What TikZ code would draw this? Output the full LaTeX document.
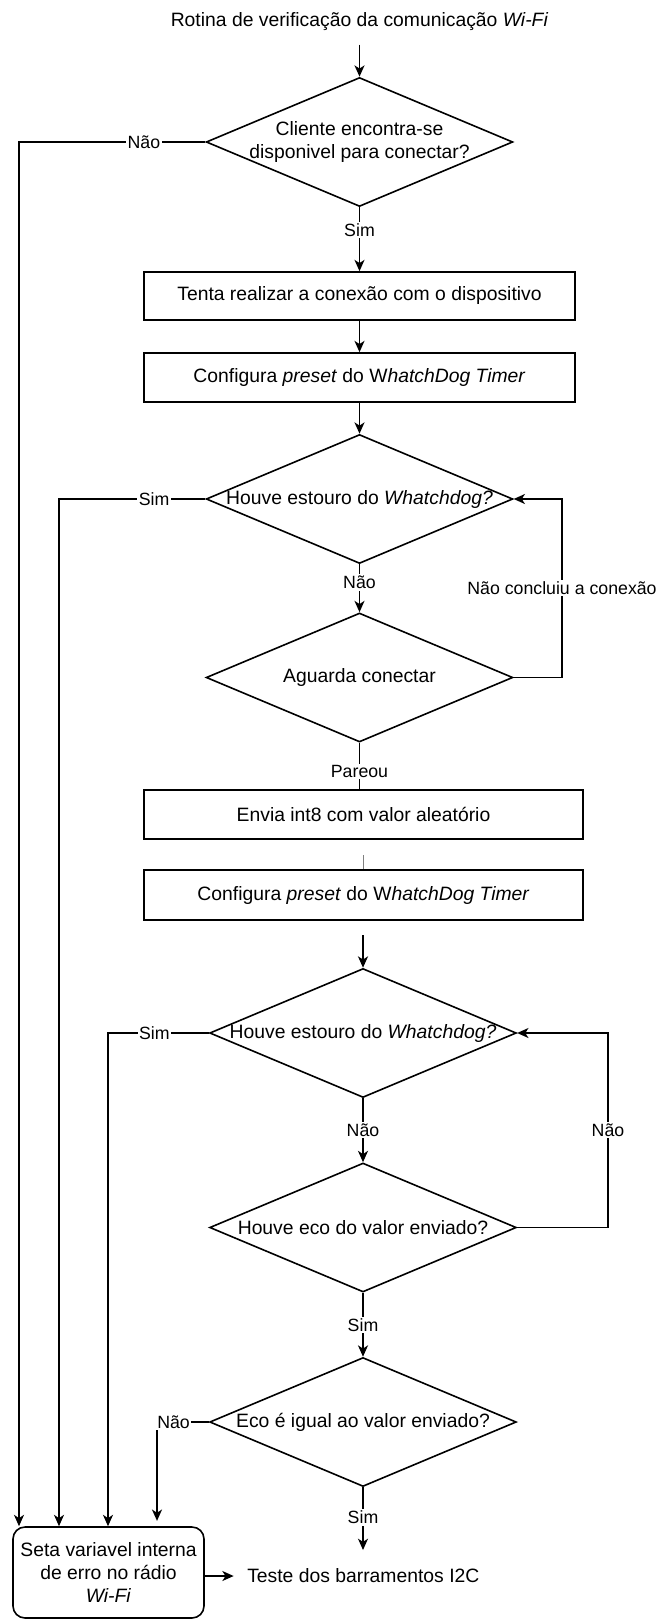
\documentclass[tikz,border=0pt]{standalone}
\usepackage{fontspec}
\setmainfont{Liberation Sans}
\usetikzlibrary{shapes.geometric,arrows.meta}
\newcommand\nodefont{\fontsize{14.5pt}{17.25pt}\selectfont}
\newcommand\lblfont{\fontsize{13.3pt}{16pt}\selectfont}
% zero-width text so the diamond size comes from its minimum size only
\newcommand\zw[1]{\makebox[0pt]{#1}}
\begin{document}
\begin{tikzpicture}[x=0.75pt,y=-0.75pt,
  every node/.style={font=\nodefont},
  flow/.style={line width=1.2pt, draw=black},
  arrow/.style={flow, -{Stealth[length=8.5pt,width=7.5pt,inset=2.4pt]}},
  process/.style={draw, line width=1.2pt, rectangle, inner sep=0pt},
  decision/.style={draw, line width=1.2pt, diamond, minimum width=230pt, minimum height=96.75pt, inner sep=0pt},
  terminal/.style={draw, line width=1.2pt, rounded corners=9pt, align=center, inner sep=0pt},
  lbl/.style={font=\lblfont, fill=white, inner sep=1.2pt},
  plain/.style={inner sep=0pt},
]
\useasboundingbox (0,0) rectangle (657,1619);

% nodes
\node[plain] (title) at (359.5,22) {Rotina de verificação da comunicação \textit{Wi-Fi}};
\node[decision] (d1) at (359.5,142) {\zw{\begin{tabular}{@{}c@{}}Cliente encontra-se\\disponivel para conectar?\end{tabular}}};
\node[process, minimum width=323.25pt, minimum height=36pt] (b1) at (359.5,296) {Tenta realizar a conexão com o dispositivo};
\node[process, minimum width=323.25pt, minimum height=36.75pt] (b2) at (359.5,377.5) {Configura \textit{preset} do W\textit{hatchDog Timer}};
\node[decision] (d2) at (359.5,499) {\zw{Houve estouro do \textit{Whatchdog?}}};
\node[decision] (d3) at (359.5,677.5) {\zw{Aguarda conectar}};
\node[process, minimum width=329.25pt, minimum height=36.75pt] (b3) at (363.5,814.5) {Envia int8 com valor aleatório};
\node[process, minimum width=329.25pt, minimum height=37.5pt] (b4) at (363.5,895) {Configura \textit{preset} do W\textit{hatchDog Timer}};
\node[decision] (d4) at (363,1033) {\zw{Houve estouro do \textit{Whatchdog?}}};
\node[decision] (d5) at (363,1227.5) {\zw{Houve eco do valor enviado?}};
\node[decision] (d6) at (363,1422) {\zw{Eco é igual ao valor enviado?}};
\node[terminal, minimum width=143.25pt, minimum height=68.25pt] (err) at (108.5,1572.5)
  {Seta variavel interna\\de erro no rádio\\\textit{Wi-Fi}};
\node[plain, anchor=west] (i2c) at (247,1576) {Teste dos barramentos I2C};

% helper coordinates for the vertical runs
\coordinate (xl1) at (19,0);
\coordinate (xl2) at (59,0);
\coordinate (xl3) at (108,0);
\coordinate (xl4) at (157,0);
\coordinate (xr1) at (562,0);
\coordinate (xr2) at (608,0);
\coordinate (stub) at (363.5,855);
\coordinate (d4in) at (363,935);
\coordinate (fim) at (363,1550);

% main flow
\draw[arrow, shorten <=10pt] (title.south -| d1.north) -- (d1.north);
\draw[arrow] (d1.south) -- node[lbl,pos=0.36]{Sim} (b1.north);
\draw[arrow] (b1.south) -- (b2.north);
\draw[arrow] (b2.south) -- (d2.north);
\draw[arrow] (d2.south) -- node[lbl,pos=0.38]{Não} (d3.north);
\draw[arrow] (d3.east) -- (d3.east -| xr1) -- node[lbl,pos=0.5]{Não concluiu a conexão} (xr1 |- d2.east) -- (d2.east);
\draw[flow] (d3.south) -- node[lbl,pos=0.62]{Pareou} (d3.south |- b3.north);
\draw[flow, draw=gray] (stub) -- (stub |- b4.north);
\draw[arrow, line width=1.6pt] (d4in) -- (d4.north);
\draw[arrow] (d4.south) -- node[lbl,pos=0.5]{Não} (d5.north);
\draw[arrow] (d5.east) -- (d5.east -| xr2) -- node[lbl,pos=0.5]{Não} (xr2 |- d4.east) -- (d4.east);
\draw[arrow] (d5.south) -- node[lbl,pos=0.5]{Sim} (d6.north);
\draw[arrow] (d6.south) -- node[lbl,pos=0.48]{Sim} (fim);

% error branches
\draw[arrow] (d1.west) -- node[lbl,pos=0.33]{Não} (d1.west -| xl1) -- (xl1 |- err.north);
\draw[arrow] (d2.west) -- node[lbl,pos=0.35]{Sim} (d2.west -| xl2) -- (xl2 |- err.north);
\draw[arrow] (d4.west) -- node[lbl,pos=0.54]{Sim} (d4.west -| xl3) -- (xl3 |- err.north);
\draw[arrow, shorten >=4pt] (d6.west) -- node[lbl,pos=0.68]{Não} (d6.west -| xl4) -- (xl4 |- err.north);

\draw[arrow] (err.east |- i2c.west) -- ([xshift=-10pt]i2c.west);
\end{tikzpicture}
\end{document}
